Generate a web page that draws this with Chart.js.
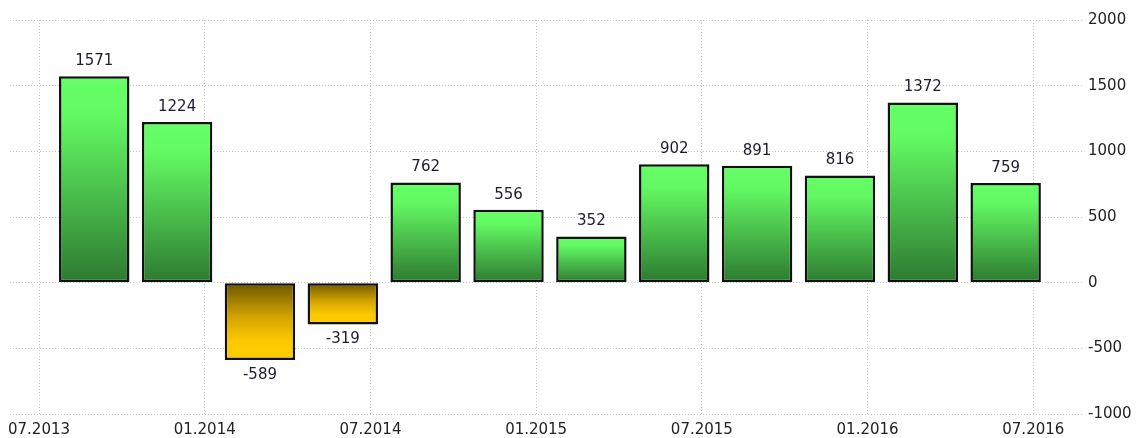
<!DOCTYPE html>
<html>
<head>
<meta charset="utf-8">
<script src="https://cdn.jsdelivr.net/npm/chart.js@4/dist/chart.umd.min.js"></script>
<style>
  html, body { margin: 0; padding: 0; background: #fff; }
  #wrap { width: 1138px; height: 438px; position: relative; }
</style>
</head>
<body>
<div id="wrap"><canvas id="balanceChart"></canvas></div>
<script>
/* ─── data ─── */
const periods = ['09.2013','12.2013','03.2014','06.2014','09.2014','12.2014',
                 '03.2015','06.2015','09.2015','12.2015','03.2016','06.2016'];
const values  = [1571, 1224, -589, -319, 762, 556, 352, 902, 891, 816, 1372, 759];
const xTickLabels = ['07.2013','01.2014','07.2014','01.2015','07.2015','01.2016','07.2016'];
const yTicks = [-1000, -500, 0, 500, 1000, 1500, 2000];

// months counted from 07.2013
function monthIndex(s) {
  const [m, y] = s.split('.').map(Number);
  return (y - 2013) * 12 + (m - 7);
}
const tickByMonth = {};
xTickLabels.forEach(l => { tickByMonth[monthIndex(l)] = l; });

const FONT = 'DejaVu Sans';

// per-bar vertical gradient
function barFill(ctx) {
  const chart = ctx.chart;
  if (ctx.type !== 'data' || !chart.chartArea) return '#5ee65e';
  const y = chart.scales.y;
  const v = ctx.raw.y;
  const p0 = y.getPixelForValue(0);
  const pv = y.getPixelForValue(v);
  const g = chart.ctx.createLinearGradient(0, Math.min(p0, pv), 0, Math.max(p0, pv));
  if (v >= 0) {
    g.addColorStop(0,    '#66ff66');
    g.addColorStop(0.2,  '#62f862');
    g.addColorStop(1,    '#2d7a30');
  } else {
    g.addColorStop(0,    '#6b5500');
    g.addColorStop(0.45, '#d4a500');
    g.addColorStop(0.75, '#fcc800');
    g.addColorStop(1,    '#ffcc00');
  }
  return g;
}

const valueLabels = {
  id: 'valueLabels',
  afterDatasetsDraw(chart) {
    const c = chart.ctx;
    const meta = chart.getDatasetMeta(0);
    c.save();
    c.font = `15px "${FONT}"`;
    c.fillStyle = '#1c1c2c';
    c.textAlign = 'center';
    c.textBaseline = 'middle';
    meta.data.forEach((bar, i) => {
      const v = values[i];
      const ty = v >= 0 ? bar.y - 15 : bar.y + 15;
      c.fillText(String(v), bar.x, ty);
    });
    c.restore();
  }
};

new Chart(document.getElementById('balanceChart'), {
  type: 'bar',
  data: {
    datasets: [{
      data: periods.map((p, i) => ({ x: monthIndex(p), y: values[i] })),
      backgroundColor: barFill,
      borderColor: '#111',
      borderWidth: 2.5,
      borderSkipped: false,
      categoryPercentage: 1,
      barPercentage: 0.85
    }]
  },
  options: {
    responsive: true,
    maintainAspectRatio: false,
    animation: false,
    layout: { padding: { left: 10, top: 20, right: 0, bottom: 0 } },
    plugins: {
      legend: { display: false },
      tooltip: { enabled: false }
    },
    scales: {
      x: {
        type: 'linear',
        min: -1.05,
        max: 37.8,
        offset: false,
        grid: { offset: false, color: '#c8c8c8', drawTicks: false },
        border: { display: false, dash: [1, 2] },
        afterBuildTicks: s => { s.ticks = xTickLabels.map(l => ({ value: monthIndex(l) })); },
        afterFit: s => { s.height = 24; },
        ticks: {
          padding: 7,
          maxRotation: 0,
          autoSkip: false,
          color: '#222',
          font: { family: FONT, size: 15 },
          callback: v => tickByMonth[v] || ''
        }
      },
      y: {
        position: 'right',
        min: -1000,
        max: 2000,
        grid: { color: '#c8c8c8', drawTicks: false },
        border: { display: false, dash: [1, 2] },
        afterBuildTicks: s => { s.ticks = yTicks.map(v => ({ value: v })); },
        afterFit: s => { s.width = 55; },
        ticks: {
          padding: 5,
          color: '#222',
          font: { family: FONT, size: 15 },
          callback: v => String(v)
        }
      }
    }
  },
  plugins: [valueLabels]
});
</script>
</body>
</html>
